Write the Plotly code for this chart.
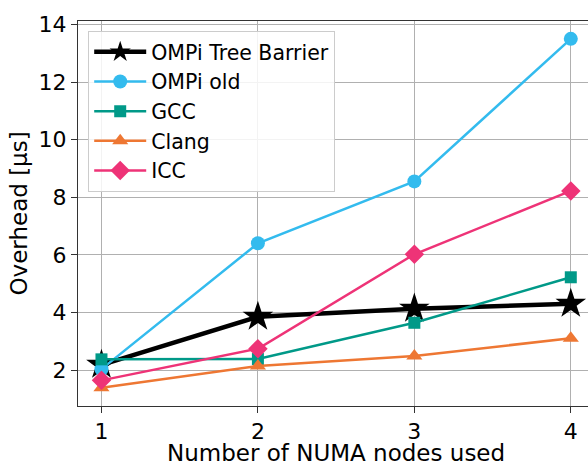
import plotly.graph_objects as go

nodes = [1, 2, 3, 4]
tree_barrier = [2.18, 3.85, 4.13, 4.30]
ompi_old = [2.03, 6.40, 8.55, 13.50]
gcc = [2.37, 2.38, 3.64, 5.22]
clang = [1.38, 2.14, 2.49, 3.10]
icc = [1.64, 2.74, 6.02, 8.22]

series = [
    ("OMPi Tree Barrier", tree_barrier, "#000000", "star", 23, 4.5),
    ("OMPi old", ompi_old, "#33BBEE", "circle", 14, 2.5),
    ("GCC", gcc, "#009988", "square", 12, 2.5),
    ("Clang", clang, "#EE7733", "triangle-up", 14, 2.5),
    ("ICC", icc, "#EE3377", "diamond", 15, 2.5),
]

fig = go.Figure()
for name, vals, color, sym, msize, lw in series:
    fig.add_trace(go.Scatter(
        x=nodes, y=vals, name=name, mode="lines+markers",
        line=dict(color=color, width=lw),
        marker=dict(symbol=sym, size=msize, color=color, line=dict(width=0)),
    ))

font = "DejaVu Sans, sans-serif"
L, T, B, W, H = 78, 21, 59, 588, 465
pw, ph = W - L, H - T - B
fig.update_layout(
    width=W, height=H,
    margin=dict(l=L, r=0, t=T, b=B),
    plot_bgcolor="white", paper_bgcolor="white",
    font=dict(family=font, size=22, color="black"),
    showlegend=True,
    legend=dict(
        x=0.02, y=0.974, xanchor="left", yanchor="top",
        bgcolor="rgba(255,255,255,0.85)", bordercolor="#cccccc", borderwidth=1,
        font=dict(family=font, size=20.5, color="black"),
        tracegroupgap=0, itemwidth=52,
    ),
    xaxis=dict(
        range=[0.85, 4.11], tickvals=nodes, ticktext=[str(n) for n in nodes],
        showgrid=True, gridcolor="#b0b0b0", gridwidth=1,
        showline=True, linecolor="#333333", linewidth=1, mirror=True,
        ticks="outside", ticklen=6, tickcolor="#333333",
        tickfont=dict(size=22), zeroline=False, automargin=False,
    ),
    yaxis=dict(
        range=[0.75, 14.12], tickvals=[2, 4, 6, 8, 10, 12, 14],
        showgrid=True, gridcolor="#b0b0b0", gridwidth=1,
        showline=True, linecolor="#333333", linewidth=1, mirror=False,
        ticks="outside", ticklen=6, tickcolor="#333333",
        tickfont=dict(size=22), zeroline=False, automargin=False,
    ),
    annotations=[
        dict(text="Number of NUMA nodes used", xref="paper", yref="paper",
             x=(336 - L) / pw, y=-(453 - (T + ph)) / ph, xanchor="center", yanchor="middle",
             showarrow=False, font=dict(size=23)),
        dict(text="Overhead [µs]", xref="paper", yref="paper",
             x=(18 - L) / pw, y=0.5, xanchor="center", yanchor="middle", textangle=-90,
             showarrow=False, font=dict(size=23)),
    ],
)
fig.write_html("out.html", config={"displayModeBar": False},
               post_script="document.body.style.margin='0';")
